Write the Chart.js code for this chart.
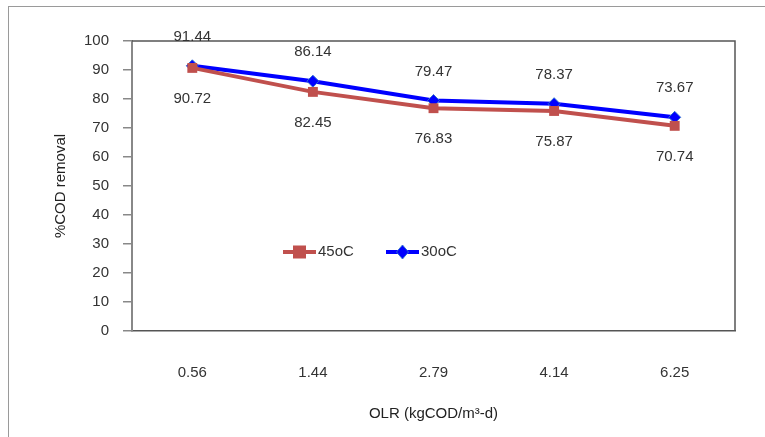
<!DOCTYPE html>
<html>
<head>
<meta charset="utf-8">
<script src="https://cdn.jsdelivr.net/npm/chart.js@4/dist/chart.umd.min.js"></script>
<style>
  html, body { margin: 0; padding: 0; background: #fff; }
  #wrap { position: relative; width: 765px; height: 437px; overflow: hidden; }
  #frame { position: absolute; left: 8px; top: 6px; width: 800px; height: 500px;
           border-top: 1px solid #9a9a9a; border-left: 1px solid #9a9a9a; }
  canvas { position: absolute; left: 0; top: 0; }
</style>
</head>
<body>
<div id="wrap">
  <div id="frame"></div>
  <canvas id="grafico" width="765" height="437"></canvas>
</div>
<script>
// datos del grafico
const categorias = ["0.56", "1.44", "2.79", "4.14", "6.25"];
const remocion45 = [90.72, 82.45, 76.83, 75.87, 70.74];
const remocion30 = [91.44, 86.14, 79.47, 78.37, 73.67];
const etiquetas = ["45oC", "30oC"];

const fuente = "'Liberation Sans', Arial, sans-serif";

// etiquetas de valores, caja del area y leyenda interna
const extras = {
  id: "extras",
  afterDatasetsDraw(chart) {
    const ctx = chart.ctx;
    const a = chart.chartArea;
    ctx.save();
    // borde superior y derecho del area
    ctx.strokeStyle = "#555";
    ctx.lineWidth = 1.5;
    ctx.beginPath();
    ctx.moveTo(a.left, a.top);
    ctx.lineTo(a.right, a.top);
    ctx.lineTo(a.right, a.bottom);
    ctx.stroke();

    // valores
    ctx.font = "15px " + fuente;
    ctx.fillStyle = "#333";
    ctx.textAlign = "center";
    ctx.textBaseline = "middle";
    chart.getDatasetMeta(0).data.forEach((p, i) => {
      ctx.fillText(remocion45[i].toFixed(2), p.x, p.y + 31);
    });
    chart.getDatasetMeta(1).data.forEach((p, i) => {
      ctx.fillText(remocion30[i].toFixed(2), p.x, p.y - 29);
    });

    // leyenda
    const ly = 252;
    const items = [
      { x: 283, color: "#C0504D", label: etiquetas[0], tipo: "cuadro" },
      { x: 386, color: "#0000FF", label: etiquetas[1], tipo: "rombo" }
    ];
    items.forEach(it => {
      ctx.strokeStyle = it.color;
      ctx.lineWidth = 4;
      ctx.beginPath();
      ctx.moveTo(it.x, ly);
      ctx.lineTo(it.x + 33, ly);
      ctx.stroke();
      const cx = it.x + 16.5;
      if (it.tipo === "cuadro") {
        ctx.fillStyle = it.color;
        ctx.fillRect(cx - 6.5, ly - 6.5, 13, 13);
      } else {
        ctx.fillStyle = "#0000FF";
        ctx.strokeStyle = "#2F6FD0";
        ctx.lineWidth = 1;
        ctx.beginPath();
        ctx.moveTo(cx, ly - 7);
        ctx.lineTo(cx + 6, ly);
        ctx.lineTo(cx, ly + 7);
        ctx.lineTo(cx - 6, ly);
        ctx.closePath();
        ctx.fill();
        ctx.stroke();
      }
      ctx.fillStyle = "#333";
      ctx.textAlign = "left";
      ctx.fillText(it.label, it.x + 35, ly);
    });
    ctx.restore();
  }
};

new Chart(document.getElementById("grafico"), {
  type: "line",
  data: {
    labels: categorias,
    datasets: [
      {
        label: etiquetas[0],
        data: remocion45,
        borderColor: "#C0504D",
        backgroundColor: "#C0504D",
        borderWidth: 4,
        pointStyle: "rect",
        pointRadius: 7,
        pointBorderWidth: 0,
        tension: 0
      },
      {
        label: etiquetas[1],
        data: remocion30,
        borderColor: "#0000FF",
        backgroundColor: "#0000FF",
        borderWidth: 4,
        pointStyle: "rectRot",
        pointRadius: 6,
        pointBorderColor: "#2F6FD0",
        pointBorderWidth: 1,
        tension: 0
      }
    ]
  },
  options: {
    responsive: false,
    animation: false,
    layout: { padding: { left: 48, top: 41, right: 30, bottom: 0 } },
    plugins: { legend: { display: false }, tooltip: { enabled: false } },
    scales: {
      x: {
        offset: true,
        grid: { display: false, drawTicks: false },
        border: { display: true, color: "#555", width: 1.5 },
        ticks: { color: "#333", font: { family: fuente, size: 15 }, padding: 33 },
        title: { display: true, text: "OLR (kgCOD/m³-d)", color: "#222",
                 font: { family: fuente, size: 15 }, padding: { top: 4, bottom: 14 } },
        afterFit(s) { s.height = 106; }
      },
      y: {
        min: 0, max: 100,
        ticks: { stepSize: 10, color: "#333", font: { family: fuente, size: 15 }, padding: 14 },
        grid: { drawOnChartArea: false, color: "#888", tickLength: 9, lineWidth: 1.5 },
        border: { display: true, color: "#888", width: 2 },
        title: { display: true, text: "%COD removal", color: "#222",
                 font: { family: fuente, size: 15 } },
        afterFit(s) { s.width = 84; }
      }
    }
  },
  plugins: [extras]
});
</script>
</body>
</html>
